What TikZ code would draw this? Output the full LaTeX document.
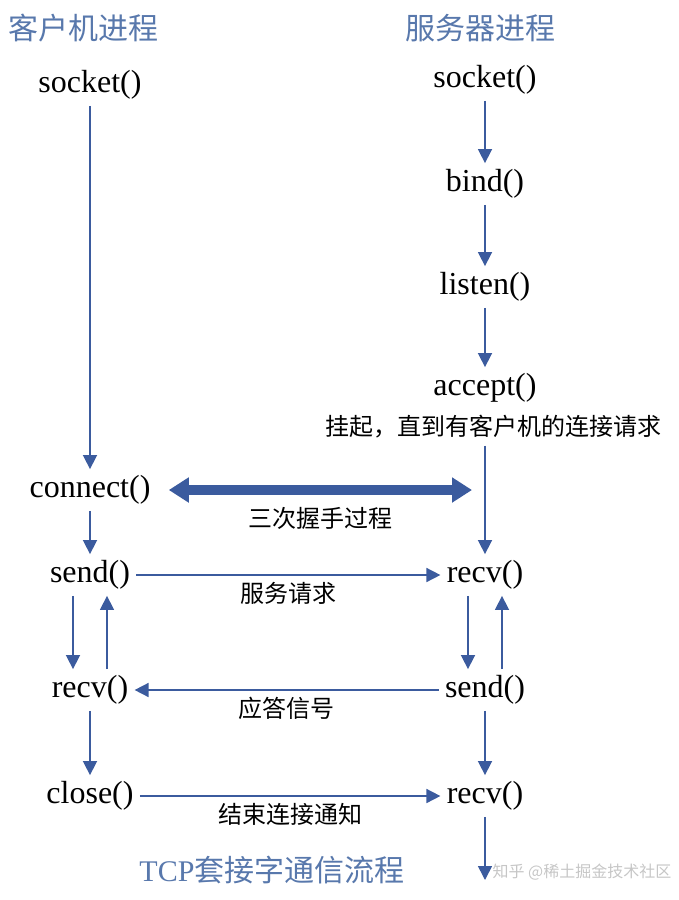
\documentclass[tikz,border=0pt]{standalone}
\usepackage{fontspec}
\setmainfont{Liberation Serif}
\newfontfamily\cjk{Noto Sans CJK SC}
\usetikzlibrary{arrows.meta}
\definecolor{arrowblue}{RGB}{59,91,158}
\definecolor{titleblue}{RGB}{88,120,172}
\tikzstyle{func}=[inner sep=3pt,font=\fontsize{16}{18}\selectfont]
\tikzstyle{flow}=[arrowblue,line width=0.8pt,-{Triangle[length=7pt,width=7pt]}]
\tikzstyle{bigflow}=[arrowblue,line width=5pt,{Triangle[length=10pt,width=12pt]}-{Triangle[length=10pt,width=12pt]}]
\tikzstyle{note}=[text=black,font=\cjk\fontsize{12}{14}\selectfont]
\tikzstyle{title}=[text=titleblue,font=\cjk\fontsize{15}{18}\selectfont]

\begin{document}
\begin{tikzpicture}[x=0.5pt,y=-0.5pt]
  \useasboundingbox (0,0) rectangle (679,900);
  \node[title] (client) at (84,28) {客户机进程};
  \node[title] (server) at (480,28) {服务器进程};
  \foreach \place/\name/\txt in {{(90,85)/sockc/socket()},
                                 {(90,490)/connect/connect()},
                                 {(90,575)/sendc/send()},
                                 {(90,690)/recvc/recv()},
                                 {(90,796)/close/close()}}
    \node[func] (\name) at \place {\txt};
  \foreach \place/\name/\txt in {{(485,80)/socks/socket()},
                                 {(485,184)/bind/bind()},
                                 {(485,287)/listen/listen()},
                                 {(485,388)/accept/accept()},
                                 {(485,575)/recvs/recv()},
                                 {(485,690)/sends/send()},
                                 {(485,796)/recvz/recv()}}
    \node[func] (\name) at \place {\txt};
  \node[note] (hang) at (493,427) {挂起，直到有客户机的连接请求};
  \coordinate (tail) at (485,880);
  \foreach \source/\dest in {sockc/connect,connect/sendc,recvc/close,
                             socks/bind,bind/listen,listen/accept,
                             sends/recvz,recvz/tail}
    \draw[flow] (\source) -- (\dest);
  \draw[flow] (hang.south -| recvs.north) -- (recvs.north);
  \foreach \upper/\lower in {sendc/recvc,recvs/sends}
  {
    \draw[flow] ([xshift=-8.5pt]\upper.south) -- ([xshift=-8.5pt]\lower.north);
    \draw[flow] ([xshift=8.5pt]\lower.north) -- ([xshift=8.5pt]\upper.south);
  }
  \draw[bigflow,shorten <=6pt,shorten >=6.5pt] (connect) -- node[note,below=3pt] {三次握手过程} (connect -| recvs.north);
  \draw[flow] (sendc) -- node[note,below] {服务请求} (recvs);
  \draw[flow] (sends) -- node[note,below] {应答信号} (recvc);
  \draw[flow] (close) -- node[note,below] {结束连接通知} (recvz);
  \node[title] (caption) at (272,870) {{\rmfamily TCP}套接字通信流程};
  \node[text=gray!45,font=\cjk\fontsize{8}{10}\selectfont] (mark) at (582,872) {知乎 @稀土掘金技术社区};
\end{tikzpicture}
\end{document}
